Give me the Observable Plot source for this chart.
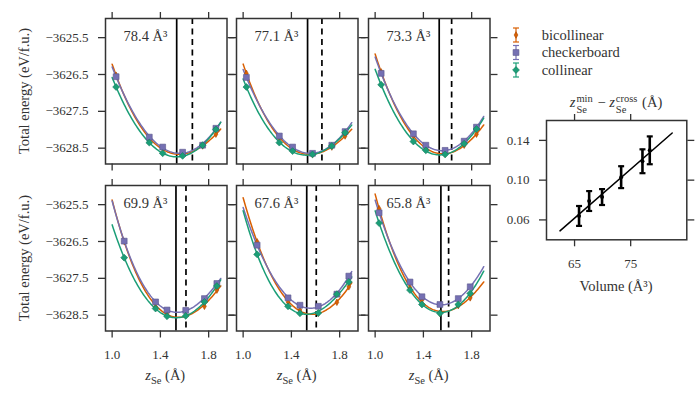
<!DOCTYPE html>
<html><head><meta charset="utf-8">
<script src="https://cdn.jsdelivr.net/npm/d3@7"></script>
<script src="https://cdn.jsdelivr.net/npm/@observablehq/plot@0.6"></script>
<style>
body{margin:0;background:#fff;}
#root{position:relative;width:700px;height:400px;overflow:hidden;font-family:"Liberation Serif","DejaVu Serif","Times New Roman",serif;color:#333;background:#fff;}
#root svg{position:absolute;}
#root svg text{font-family:"Liberation Serif","DejaVu Serif","Times New Roman",serif;}
.lbl{position:absolute;font-size:14.5px;white-space:nowrap;line-height:1;transform:translate(-50%,-50%);}
.rot{transform:translate(-50%,-50%) rotate(-90deg);}
.ss{display:inline-flex;flex-direction:column;font-size:10.5px;line-height:1.05;vertical-align:5px;margin-left:1px;margin-right:1px;}
sub{font-size:10.5px;}
</style></head><body><div id="root"></div>
<script>
// ---------- data ----------
const series = ["bicollinear", "checkerboard", "collinear"];
const colors = ["#d95f02", "#7570b3", "#1b9e77"];
const volumes = [78.4, 77.1, 73.3, 69.9, 67.6, 65.8];
const zCross = [1.535, 1.534, 1.531, 1.529, 1.527, 1.545];
const zMin   = [1.665, 1.653, 1.634, 1.612, 1.606, 1.609];
const zGrid = [
  [1.033, 1.308, 1.419, 1.584, 1.750, 1.860],
  [1.027, 1.300, 1.410, 1.575, 1.735, 1.845],
  [1.050, 1.317, 1.420, 1.580, 1.738, 1.840],
  [1.100, 1.360, 1.455, 1.610, 1.765, 1.868],
  [1.116, 1.372, 1.471, 1.623, 1.777, 1.876],
  [1.033, 1.289, 1.388, 1.537, 1.689, 1.788]
];
const eBicollinear = [
  [-3626.52, -3628.24, -3628.51, -3628.67, -3628.44, -3628.12],
  [-3626.47, -3628.22, -3628.51, -3628.67, -3628.47, -3628.17],
  [-3626.43, -3628.17, -3628.50, -3628.66, -3628.42, -3628.12],
  [-3626.50, -3628.28, -3628.43, -3628.51, -3628.26, -3627.82],
  [-3626.51, -3628.14, -3628.36, -3628.45, -3628.15, -3627.73],
  [-3625.61, -3627.76, -3628.09, -3628.45, -3628.24, -3628.03]
];
const eCheckerboard = [
  [-3626.56, -3628.20, -3628.47, -3628.61, -3628.42, -3627.96],
  [-3626.58, -3628.17, -3628.47, -3628.64, -3628.42, -3628.05],
  [-3626.47, -3628.11, -3628.42, -3628.56, -3628.31, -3627.93],
  [-3626.49, -3628.14, -3628.36, -3628.37, -3628.05, -3627.64],
  [-3626.60, -3628.03, -3628.23, -3628.26, -3627.93, -3627.44],
  [-3625.72, -3627.60, -3628.00, -3628.21, -3628.05, -3627.73]
];
const eCollinear = [
  [-3626.84, -3628.35, -3628.64, -3628.71, -3628.42, -3627.99],
  [-3626.84, -3628.35, -3628.58, -3628.67, -3628.44, -3628.08],
  [-3626.78, -3628.32, -3628.56, -3628.67, -3628.38, -3627.98],
  [-3626.94, -3628.32, -3628.53, -3628.52, -3628.14, -3627.71],
  [-3626.85, -3628.26, -3628.45, -3628.44, -3627.93, -3627.60],
  [-3626.00, -3627.82, -3628.21, -3628.45, -3628.21, -3627.91]
];
const zCurveRange = [1.0, 1.9];
const xTicks = [1.0, 1.4, 1.8];
const yTicks = [-3625.5, -3626.5, -3627.5, -3628.5];
const xDomain = [0.945, 1.952];
const yDomain = [-3628.93, -3624.98];

const insetVolume = [65.8, 67.6, 69.9, 73.3, 77.1, 78.4];
const insetDelta  = [0.064, 0.079, 0.083, 0.103, 0.119, 0.130];
const insetErr    = [0.010, 0.010, 0.008, 0.011, 0.012, 0.014];
const insetFitRange = [62.4, 82.4];
const insetXTicks = [65, 75];
const insetYTicks = [0.06, 0.10, 0.14];

// ---------- helpers ----------
const energies = [eBicollinear, eCheckerboard, eCollinear];
const FONT = '"Liberation Serif", "DejaVu Serif", "Times New Roman", serif';
const INK = "#333";
function polyFit(xs, ys, deg) {
  const n = deg + 1, x0 = d3.mean(xs), y0 = d3.mean(ys);
  const A = Array.from({length: n}, () => new Array(n + 1).fill(0));
  xs.forEach((x, i) => {
    const t = x - x0, v = ys[i] - y0, p = [];
    for (let k = 0; k < n; k++) p.push(t ** k);
    for (let a = 0; a < n; a++) { for (let b = 0; b < n; b++) A[a][b] += p[a] * p[b]; A[a][n] += p[a] * v; }
  });
  for (let col = 0; col < n; col++) {
    let piv = col;
    for (let r = col + 1; r < n; r++) if (Math.abs(A[r][col]) > Math.abs(A[piv][col])) piv = r;
    [A[col], A[piv]] = [A[piv], A[col]];
    for (let r = 0; r < n; r++) {
      if (r === col) continue;
      const f = A[r][col] / A[col][col];
      for (let k = col; k <= n; k++) A[r][k] -= f * A[col][k];
    }
  }
  const c = A.map((row, i) => row[n] / row[i]);
  return x => y0 + c.reduce((s, ck, k) => s + ck * (x - x0) ** k, 0);
}
const fmtY = d => d.toFixed(1).replace("-", "\u2212");
const blank = () => "";
const root = document.getElementById("root");
function place(svg, left, top) { svg.style.left = left + "px"; svg.style.top = top + "px"; root.appendChild(svg); }

// ---------- panels ----------
const colLeft = [104.5, 236, 368], rowTop = [18, 185], PW = 121.5, PH = 145.5;
const mL = 70, mR = 14, mT = 14, mB = 34;
const symbols = ["diamond", "square", "diamond2"];
const radii = [2.0, 3.3, 3.1];

volumes.forEach((vol, i) => {
  const r = Math.floor(i / 3), c = i % 3;
  const pts = [], curves = [];
  series.forEach((s, k) => {
    zGrid[i].forEach((z, j) => pts.push({series: s, z, e: energies[k][i][j]}));
    const f = polyFit(zGrid[i], energies[k][i], 3);
    const N = 90;
    for (let t = 0; t <= N; t++) {
      const z = zCurveRange[0] + (zCurveRange[1] - zCurveRange[0]) * t / N;
      curves.push({series: s, z, e: f(z)});
    }
  });
  const axisCommon = {tickSize: 7, strokeWidth: 1.3, stroke: INK, label: null};
  const svg = Plot.plot({
    width: PW + mL + mR, height: PH + mT + mB,
    marginLeft: mL, marginRight: mR, marginTop: mT, marginBottom: mB,
    style: {background: "transparent", fontFamily: FONT, fontSize: "13px", color: INK, overflow: "visible"},
    x: {domain: xDomain}, y: {domain: yDomain},
    color: {domain: series, range: colors},
    marks: [
      Plot.ruleX([zCross[i]], {stroke: "#000", strokeWidth: 1.7}),
      Plot.ruleX([zMin[i]], {stroke: "#000", strokeWidth: 1.7, strokeDasharray: "6,4.5"}),
      Plot.line(curves, {x: "z", y: "e", z: "series", stroke: "series", strokeWidth: 1.5}),
      ...series.map((s, k) => Plot.dot(pts.filter(d => d.series === s), {
        x: "z", y: "e", symbol: symbols[k], r: radii[k], fill: colors[k],
        stroke: d3.color(colors[k]).darker(0.7).formatHex(), strokeWidth: 0.6
      })),
      Plot.text([vol], {text: d => `${d.toFixed(1)} Å³`, frameAnchor: "top-left", dx: 18, dy: 18,
        textAnchor: "start", lineAnchor: "middle", fontSize: 14.5, fill: INK, fontFamily: FONT}),
      Plot.axisX({...axisCommon, anchor: "bottom", ticks: xTicks, tickPadding: 12, fontFamily: FONT,
        tickFormat: r === 1 ? (d => d.toFixed(1)) : blank}),
      Plot.axisX({...axisCommon, anchor: "top", ticks: xTicks, tickFormat: blank}),
      Plot.axisY({...axisCommon, anchor: "left", ticks: yTicks, tickPadding: 10, fontFamily: FONT,
        tickFormat: c === 0 ? fmtY : blank}),
      Plot.axisY({...axisCommon, anchor: "right", ticks: yTicks, tickFormat: blank}),
      Plot.frame({stroke: INK, strokeWidth: 1.5})
    ]
  });
  place(svg, colLeft[c] - mL, rowTop[r] - mT);
});

// ---------- inset ----------
{
  const IL = 545.7, IT = 120, IW = 140.3, IH = 119.3;
  const iml = 60, imr = 14, imt = 14, imb = 40;
  const data = insetVolume.map((v, i) => ({v, d: insetDelta[i], e: insetErr[i]}));
  const mx = d3.mean(insetVolume), my = d3.mean(insetDelta);
  const slope = d3.sum(insetVolume, (v, i) => (v - mx) * (insetDelta[i] - my)) / d3.sum(insetVolume, v => (v - mx) ** 2);
  const fitLine = insetFitRange.map(v => ({v, d: my + slope * (v - mx)}));
  const cap = {draw(ctx, size) { const w = Math.sqrt(size / Math.PI); ctx.moveTo(-w, 0); ctx.lineTo(w, 0); }};
  const axisCommon = {tickSize: 7, strokeWidth: 1.3, stroke: INK, label: null};
  const svg = Plot.plot({
    width: IW + iml + imr, height: IH + imt + imb,
    marginLeft: iml, marginRight: imr, marginTop: imt, marginBottom: imb,
    style: {background: "transparent", fontFamily: FONT, fontSize: "13px", color: INK, overflow: "visible"},
    x: {domain: [60, 85]}, y: {domain: [0.04, 0.16]},
    marks: [
      Plot.line(fitLine, {x: "v", y: "d", stroke: "#000", strokeWidth: 1.5}),
      Plot.ruleX(data, {x: "v", y1: d => d.d - d.e, y2: d => d.d + d.e, stroke: "#000", strokeWidth: 2.6}),
      Plot.dot(data, {x: "v", y: d => d.d - d.e, symbol: cap, r: 3, fill: "none", stroke: "#000", strokeWidth: 2.2}),
      Plot.dot(data, {x: "v", y: d => d.d + d.e, symbol: cap, r: 3, fill: "none", stroke: "#000", strokeWidth: 2.2}),
      Plot.dot(data, {x: "v", y: "d", r: 2, fill: "#000"}),
      Plot.axisX({...axisCommon, anchor: "bottom", ticks: insetXTicks, tickPadding: 12, fontFamily: FONT, tickFormat: d => String(d)}),
      Plot.axisX({...axisCommon, anchor: "top", ticks: insetXTicks, tickFormat: blank}),
      Plot.axisY({...axisCommon, anchor: "left", ticks: insetYTicks, tickPadding: 10, fontFamily: FONT, tickFormat: d => d.toFixed(2)}),
      Plot.axisY({...axisCommon, anchor: "right", ticks: insetYTicks, tickFormat: blank}),
      Plot.frame({stroke: INK, strokeWidth: 1.5})
    ]
  });
  place(svg, IL - iml, IT - imt);
}

// ---------- legend ----------
{
  const svg = d3.create("svg").attr("width", 160).attr("height", 70)
    .style("left", "500px").style("top", "18px");
  series.forEach((s, k) => {
    const g = svg.append("g").attr("transform", `translate(16,${17 + k * 17.5})`);
    g.append("line").attr("y1", -7).attr("y2", 7).attr("stroke", colors[k]).attr("stroke-width", 1.2);
    g.append("line").attr("x1", -3).attr("x2", 3).attr("y1", -7).attr("y2", -7).attr("stroke", colors[k]).attr("stroke-width", 1.2);
    g.append("line").attr("x1", -3).attr("x2", 3).attr("y1", 7).attr("y2", 7).attr("stroke", colors[k]).attr("stroke-width", 1.2);
    const sym = [d3.symbolDiamond, d3.symbolSquare, d3.symbolDiamond2][k];
    g.append("path").attr("d", d3.symbol(sym, Math.PI * radii[k] ** 2)())
      .attr("fill", colors[k]).attr("stroke", d3.color(colors[k]).darker(0.7).formatHex()).attr("stroke-width", 0.6);
    g.append("text").attr("x", 25.7).attr("y", 0).attr("dy", "0.32em")
      .attr("font-family", FONT).attr("font-size", 14.5).attr("fill", INK).text(s);
  });
  root.appendChild(svg.node());
}

// ---------- labels ----------
function label(html, x, y, cls = "") {
  const d = document.createElement("div");
  d.className = "lbl " + cls; d.innerHTML = html;
  d.style.left = x + "px"; d.style.top = y + "px";
  root.appendChild(d);
}
rowTop.forEach(t => label("Total energy (eV/f.u.)", 24, t + PH / 2, "rot"));
colLeft.forEach(l => label("<i>z</i><sub>Se</sub> (Å)", l + PW / 2, 377));
label('<i>z</i><span class="ss"><span>min</span><span>Se</span></span> − <i>z</i><span class="ss"><span>cross</span><span>Se</span></span> (Å)', 616, 104);
label("Volume (Å³)", 616, 286);
</script></body></html>
